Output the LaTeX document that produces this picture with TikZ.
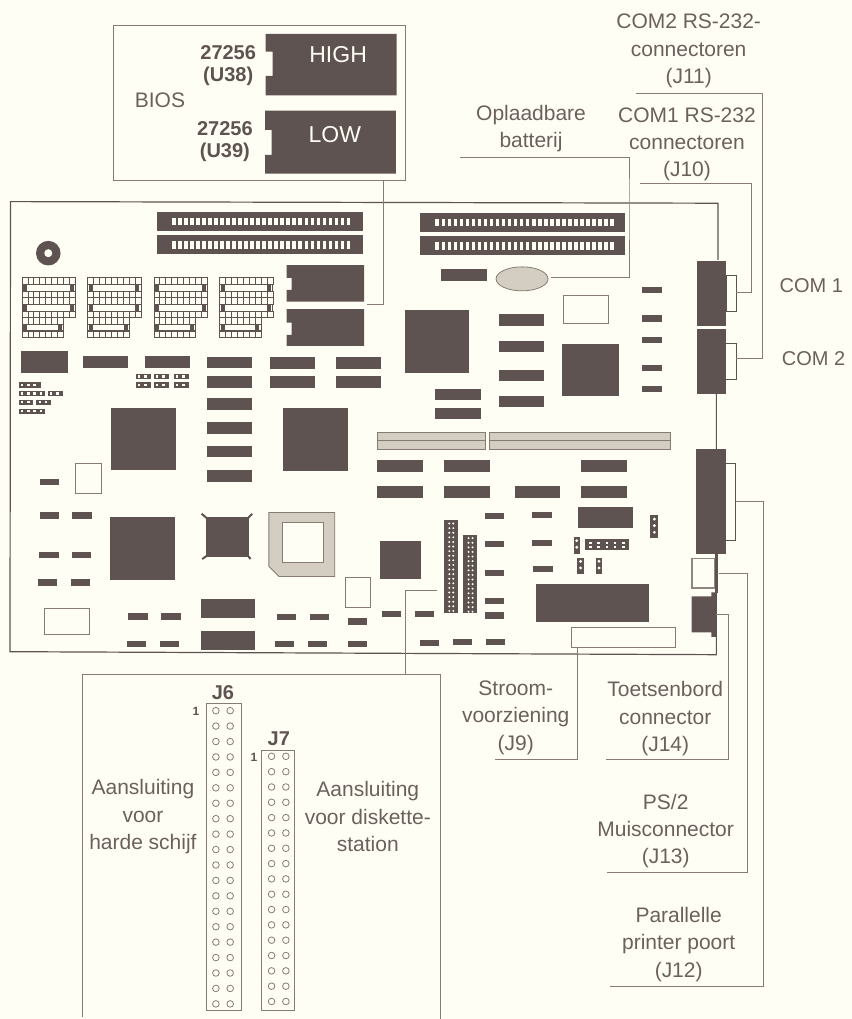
\documentclass[tikz,border=0pt]{standalone}
\usepackage{fontspec}
\setmainfont{Liberation Sans}
\usepackage{xcolor}
\usetikzlibrary{calc,positioning,shapes.geometric}
\definecolor{paper}{HTML}{FFFEF5}
\definecolor{ink}{HTML}{5E5350}
\definecolor{wire}{HTML}{877C74}
\definecolor{shade}{HTML}{D3CEC1}
\definecolor{txt}{HTML}{6B605C}

\begin{document}
\begin{tikzpicture}[x=1pt,y=1pt]
            \tikzstyle{every node}+=[inner sep=0pt]
            \tikzstyle{chip}=[fill=ink]
            \tikzstyle{outline}=[draw=wire,line width=1pt]
            \tikzstyle{leader}=[draw=wire,line width=1pt]
            \tikzstyle{hatched}=[fill=shade,draw=wire,line width=0.8pt]
            \tikzstyle{hole}=[fill=paper]
            \tikzstyle{pin}=[draw=wire,line width=0.8pt]
            \tikzstyle{lbl}=[text=txt,align=center,font=\fontsize{21}{27.3}\selectfont]
            \tikzstyle{boldlbl}=[text=ink,align=center,font=\fontsize{20}{22}\selectfont\bfseries]
            \fill [paper] (0,0) rectangle (852,-1019);
            % BIOS inset
            \draw [outline] (114,-25.7) rectangle (406,-180.3);
            \fill [chip] (265.7,-34) -- (396.7,-34) -- (396.7,-95.3) -- (265.7,-95.3) -- (265.7,-76) -- (272.7,-76) -- (272.7,-51.7) -- (265.7,-51.7) -- cycle;
            \fill [chip] (265.3,-110.7) -- (396,-110.7) -- (396,-173.7) -- (265.3,-173.7) -- (265.3,-155) -- (271.7,-155) -- (271.7,-130) -- (265.3,-130) -- cycle;
            \node (high) [text=paper,font=\fontsize{23}{25}\selectfont] at (338.3,-55) {HIGH};
            \node (low) [text=paper,font=\fontsize{23}{25}\selectfont] at (335,-135) {LOW};
            \node (u38) [boldlbl] at (228.3,-66) {27256\\(U38)};
            \node (u39) [boldlbl] at (225,-142) {27256\\(U39)};
            \node (bios) [lbl] at (160,-100) {BIOS};
            % board edge
            \draw [draw=ink,line width=1.2pt] (718.3,-260) -- (718.3,-203.3) -- (10.5,-201.7) -- (10,-652) -- (716.7,-655) -- (716.7,-394);
            % memory slots
            \foreach \sx/\sy/\hx in {157/212/172,157/235.3/172,419.7/212.7/435.7,419.7/236.3/435.7}{
                \fill [chip] (\sx,-\sy) rectangle ++(206,-19);
                \foreach \k in {0,...,29}
                    \fill [hole] ({\hx+\k*6.03},{-\sy-6.3}) rectangle ++(3.6,-7.2);
            }
            \fill [chip] (48.3,-253.3) circle (12.3);
            \fill [hole] (48.3,-253.3) circle (4);
            % SIMM banks
            \foreach \ox in {22,87.5,154,219.5}{
                \begin{scope}[shift={(\ox,-278)}]
                    \foreach \ry/\rn in {0/9,13.3/9,19.9/9,33.2/9,39.9/7,53.2/7}{
                        \draw [pin,draw=ink] (0,-\ry) rectangle ({\rn*5.95},{-\ry-6.6});
                        \foreach \k in {1,...,\rn}
                            \draw [pin,draw=ink] ({\k*5.95},-\ry) -- ++(0,-6.6);
                    }
                    \foreach \iy/\iw in {6.6/53.5,26.5/53.5,46.1/41.6}{
                        \draw [pin,draw=ink] (0,-\iy) rectangle (\iw,{-\iy-6.7});
                        \fill [chip] (1.5,{-\iy-0.5}) rectangle ++(4,-5.7);
                        \fill [chip] (\iw-1.5,{-\iy-0.5}) rectangle ++(-4,-5.7);
                    }
                \end{scope}
            }
            % BIOS chips on board
            \fill [chip] (286.7,-265.3) -- (364.3,-265.3) -- (364.3,-301.7) -- (286.7,-301.7) -- (286.7,-290) -- (291.7,-290) -- (291.7,-278) -- (286.7,-278) -- cycle;
            \fill [chip] (286.7,-309.3) -- (364.3,-309.3) -- (364.3,-346) -- (286.7,-346) -- (286.7,-335) -- (291.7,-335) -- (291.7,-322.7) -- (286.7,-322.7) -- cycle;
            % large chips
            \foreach \lx/\ly/\lw/\lh in {20.7/351/47/21.7,111/408/64.7/62.7,283/408.3/64.7/62.7,110.3/517.3/65/62.7,405/309.7/64.7/63.3,562/344/57/52.3,380/541.7/41.3/37.3,536.3/584/112.7/38.7,578/507/55/21,201/599.3/53.7/19,201/631/53.7/19}
                \fill [chip] (\lx,-\ly) rectangle ++(\lw,-\lh);
            % wide chips
            \foreach \wx/\wy in {82.7/356,144.7/356,206.7/356.7,206.7/376,206.7/398.3,206.7/422.7,206.7/446,206.7/470.7,269.7/357,269.7/376.3,335.7/357,335.7/376.3,441.7/269,499/314.3,499/340.7,499/369.7,499/395.7,435.7/388.7,435.7/408,377.3/460.3,444.3/460.3,581.3/460.3,377.3/486.7,444.3/486.7,515/486.7,581.3/486.7}
                \fill [chip] (\wx,-\wy) rectangle ++(45.5,-11.7);
            % small chips
            \foreach \cx/\cy in {39.7/479.3,39.7/512.7,72.3/512.7,39.3/552.3,72/552.3,38/579.7,70.7/579.7,128.3/613.7,161.3/613.7,126.7/641,160/641,276.7/614,309.7/614,275.3/641.3,308.3/641.3,348.3/618.7,348.3/641,382/611,414.7/611,420/640,453.3/639,486.3/639,485.3/513.3,485.3/541.3,485.3/570,485.3/598,485.3/612.7,532.7/512,532.7/540.3,533.7/566.3,642.7/287,642.7/315.3,642.7/337,642.7/365,642.7/385.7}
                \fill [chip] (\cx,-\cy) rectangle ++(19.3,-6.4);
            % horizontal jumpers
            \foreach \jx/\jy/\jw/\jn in {135.7/374/15.3/2,153.7/374/15.3/2,173.7/374/15/2,135.7/382.3/15.3/2,153.7/382.3/15.3/2,173.7/382.3/15/2,18.7/382.3/22/3,18.7/391/26.3/4,47.7/391/15/2,18.7/399.7/14.6/2,36.3/399.7/15/2,18.7/408.7/26.3/4}{
                \fill [chip] (\jx,-\jy) rectangle ++(\jw,-5.4);
                \foreach \k in {1,...,\jn}
                    \fill [hole] ({\jx+\k*6.2-3.9},{-\jy-1.6}) rectangle ++(2.4,-2.2);
            }
            \fill [chip] (585,-539.7) rectangle (629,-550.3);
            \foreach \k in {0,...,4}
                \foreach \m in {0,1}
                    \fill [hole] ({589.5+\k*8.2},{-542.2-\m*3.8}) rectangle ++(2.6,-2.2);
            % vertical jumpers
            \foreach \vx/\vy/\vw/\vh/\vn in {574/537.3/6/17/2,577.7/558/6.3/16.7/2,596.3/558/6/16.7/2,650.7/515.7/8/22.6/3}{
                \fill [chip] (\vx,-\vy) rectangle ++(\vw,-\vh);
                \foreach \k in {1,...,\vn}
                    \fill [hole] ({\vx+\vw/2},{-\vy+3-\k*6.6}) circle (1.6);
            }
            % white boxes
            \draw [outline] (75.7,-463.7) rectangle (101.7,-493.7);
            \draw [outline] (45,-608.3) rectangle (89.7,-634.7);
            \draw [outline] (345.7,-577.3) rectangle (371,-607.7);
            \draw [outline] (563.7,-296) rectangle (609,-323.3);
            \draw [outline] (571.3,-628.3) rectangle (675.7,-647.7);
            % square chip with corner legs
            \fill [chip] (205.7,-517) rectangle (249.3,-557.3);
            \draw [draw=ink,line width=2pt] (201.7,-514) -- (207,-518.5);
            \draw [draw=ink,line width=2pt] (252.3,-514) -- (248,-518.5);
            \draw [draw=ink,line width=2pt] (202.3,-559.3) -- (207,-556);
            \draw [draw=ink,line width=2pt] (250.7,-559.3) -- (248,-556);
            % socket
            \fill [hatched] (269,-512.7) -- (335,-512.7) -- (335,-576.7) -- (279,-576.7) -- (269,-566.7) -- cycle;
            \fill [hole,draw=wire,line width=0.8pt] (282.3,-522.7) rectangle (323.7,-562.7);
            % expansion strips
            \fill [hatched] (378,-432.7) rectangle (486,-450);
            \fill [hatched] (489.3,-432.7) rectangle (670.3,-450);
            \draw [pin] (378,-441) -- (486,-441);
            \draw [pin] (489.3,-441) -- (670.3,-441);
            \node (batt) [ellipse,hatched,minimum width=52pt,minimum height=24pt] at (522.3,-279) {};
            % drive headers on board
            \foreach \hx/\hy/\hh/\hn in {444/520.7/92.6/20,463.3/535.3/78/17}{
                \fill [chip] (\hx,-\hy) rectangle ++(13.8,-\hh);
                \foreach \k in {1,...,\hn}{
                    \fill [hole] ({\hx+5.5},{-\hy+1.5-\k*4.6}) circle (1.1);
                    \fill [hole] ({\hx+9.5},{-\hy+1.5-\k*4.6}) circle (1.1);
                }
            }
            % rear connectors
            \fill [chip] (697.3,-260.7) rectangle (726.7,-325.7);
            \draw [outline,draw=ink] (726.7,-276) rectangle (736.7,-311.3);
            \fill [chip] (697.3,-329) rectangle (726,-394);
            \draw [outline,draw=ink] (726,-344) rectangle (736.7,-379.3);
            \fill [chip] (696.7,-449) rectangle (726,-554.3);
            \draw [outline,draw=ink] (726,-464) rectangle (736,-540.7);
            \draw [draw=ink!70,line width=1.6pt] (692.3,-558.7) rectangle (715,-588.3);
            \fill [chip] (692,-596.7) -- (711.7,-596.7) -- (711.7,-592.7) -- (716.7,-592.7) -- (716.7,-637.3) -- (711.7,-637.3) -- (711.7,-632.7) -- (692,-632.7) -- cycle;
            \fill [chip] (715,-554) rectangle (718,-593);
            % J6 and J7 detail
            \draw [outline] (82.7,-1017) -- (82.7,-674.7) -- (440.7,-674.7) -- (440.7,-1019);
            \draw [outline] (206.3,-704) rectangle (241.3,-1010.7);
            \draw [outline] (261.7,-750.7) rectangle (294.7,-1010.7);
            \foreach \k in {0,...,19}{
                \draw [pin] (216,{-711-\k*15.44}) circle (3.3);
                \draw [pin] (230.3,{-711-\k*15.44}) circle (3.3);
            }
            \foreach \k in {0,...,16}{
                \draw [pin] (271.7,{-756.7-\k*15.33}) circle (3.3);
                \draw [pin] (286,{-756.7-\k*15.33}) circle (3.3);
            }
            \node (j6) [boldlbl] at (223,-692.5) {J6};
            \node (j7) [boldlbl] at (279,-739.5) {J7};
            \node (pinj6) [text=ink,font=\fontsize{12}{14}\selectfont\bfseries] at (196,-712) {1};
            \node (pinj7) [text=ink,font=\fontsize{12}{14}\selectfont\bfseries] at (254,-758) {1};
            % labels
            \node (harde) [lbl] at (143,-817) {Aansluiting\\voor\\harde schijf};
            \node (floppy) [lbl] at (368,-817) {Aansluiting\\voor diskette-\\station};
            \node (com1) [lbl,font=\fontsize{20}{22}\selectfont] at (811.7,-285.7) {COM 1};
            \node (com2) [lbl,font=\fontsize{20}{22}\selectfont] at (814,-359) {COM 2};
            \node (j11) [lbl] at (689,-51) {COM2 RS-232-\\connectoren\\(J11)};
            \node (j10) [lbl] at (687.3,-144.5) {COM1 RS-232\\connectoren\\(J10)};
            \node (oplaad) [lbl] at (531.3,-128.5) {Oplaadbare\\batterij};
            \node (j9) [lbl] at (516,-718) {Stroom-\\voorziening\\(J9)};
            \node (j14) [lbl] at (665.5,-719) {Toetsenbord\\connector\\(J14)};
            \node (j13) [lbl] at (666,-831.5) {PS/2\\Muisconnector\\(J13)};
            \node (j12) [lbl] at (679,-945) {Parallelle\\printer poort\\(J12)};
            % leader ends
            \coordinate (biosout) at (383.3,-180.3);
            \coordinate (biosin) at (366.7,-305);
            \coordinate (battin) at (551.7,-277.7);
            \coordinate (battend) at (460,-157.7);
            \coordinate (j10end) at (640.7,-184);
            \coordinate (j11end) at (636,-93.7);
            \coordinate (com1in) at (736.7,-293);
            \coordinate (com2in) at (736.7,-359);
            \coordinate (parin) at (736,-501.7);
            \coordinate (parend) at (610,-986.7);
            \coordinate (musin) at (719.3,-573.3);
            \coordinate (musend) at (607.7,-873.3);
            \coordinate (keyin) at (716.7,-615);
            \coordinate (keyend) at (606.7,-760.3);
            \coordinate (pwrin) at (578,-647.7);
            \coordinate (pwrend) at (495,-760.3);
            \coordinate (hddin) at (437.7,-590.3);
            \coordinate (hddout) at (405.7,-674.7);
            % leaders
            \draw [leader] (biosout) |- (biosin);
            \draw [leader] (battend) -| (630.3,-200) |- (battin);
            \draw [leader] (j10end) -| (752,-230) |- (com1in);
            \draw [leader] (j11end) -| (762.5,-230) |- (com2in);
            \draw [leader] (parin) -| (763.5,-800) |- (parend);
            \draw [leader] (musin) -| (747.5,-700) |- (musend);
            \draw [leader] (keyin) -| (729.2,-700) |- (keyend);
            \draw [leader] (pwrin) |- (pwrend);
            \draw [leader] (hddin) -| (hddout);
            \useasboundingbox (0,0) rectangle (852,-1019);
\end{tikzpicture}
\end{document}
